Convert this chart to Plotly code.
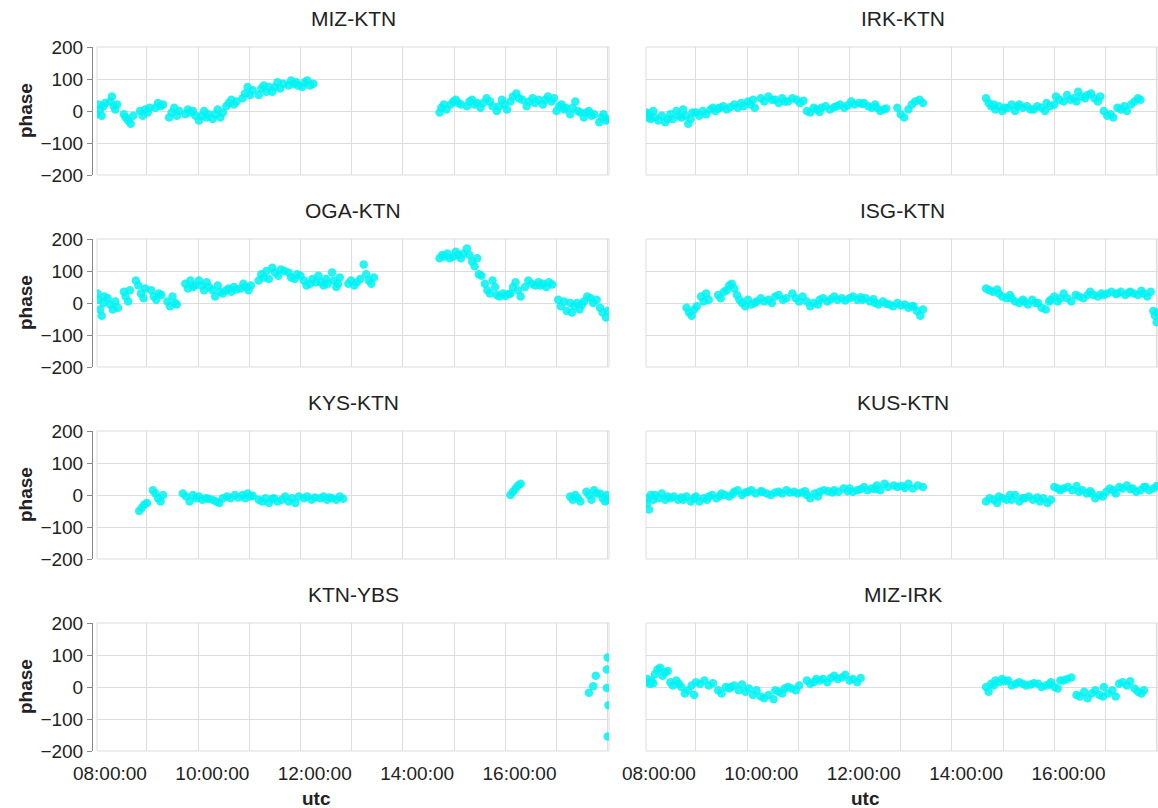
import plotly.graph_objects as go

DAY = "2000-01-01 "

# ---- baseline phase series (utc "HH:MM", phase in degrees) ----
miz_ktn_t = ["07:01","07:03","07:05","07:07","07:09","07:11",
             "07:17","07:19","07:21","07:23","07:25",
             "07:33","07:35","07:38","07:41","07:44",
             "07:52","07:55","07:58","08:01","08:03",
             "08:10","08:13","08:16","08:19",
             "08:26","08:29","08:32","08:35","08:38",
             "08:45","08:48","08:51","08:54","08:57",
             "09:01","09:04","09:07","09:10","09:12",
             "09:17","09:20","09:23","09:26","09:29",
             "09:33","09:36","09:39","09:42","09:45",
             "09:52","09:55","09:58","10:01","10:04",
             "10:11","10:14","10:17","10:20","10:23",
             "10:27","10:30","10:33","10:36","10:40",
             "10:46","10:49","10:52","10:55","10:57",
             "11:02","11:05","11:08","11:11","11:15",
             "13:43","13:45","13:48","13:51",
             "13:56","13:59","14:02","14:05","14:08",
             "14:15","14:18","14:21","14:24","14:27",
             "14:31","14:34","14:38","14:42","14:45",
             "14:50","14:53","14:56","14:59","15:02",
             "15:06","15:09","15:13","15:16","15:20",
             "15:25","15:28","15:32","15:35","15:39",
             "15:44","15:47","15:50","15:54","15:57",
             "16:00","16:03","16:06","16:09","16:11",
             "16:16","16:19","16:22","16:25","16:28",
             "16:32","16:35","16:38","16:41","16:44",
             "16:50","16:53","16:55","16:58","17:00"]
miz_ktn_v = [-10,20,5,-15,15,25,
             30,45,15,5,20,
             -10,-20,-30,-40,-15,
             0,-15,5,-5,10,
             10,25,15,20,
             -20,-5,10,-15,0,
             -10,5,-5,0,-15,
             -30,-15,0,-20,-10,
             -25,-10,5,-20,-5,
             15,25,35,20,30,
             40,55,75,50,65,
             50,70,80,60,75,
             60,75,90,70,85,
             80,95,85,90,80,
             75,90,95,80,85,
             -5,10,20,5,
             20,30,35,25,20,
             15,30,35,20,25,
             10,25,40,30,15,
             0,15,35,20,5,
             30,45,55,40,35,
             15,30,40,25,35,
             20,35,45,30,40,
             0,15,20,5,10,
             -10,10,30,0,-5,
             -20,-5,0,-15,-10,
             -35,-20,-10,-30,-25]

irk_ktn_t = ["07:02","07:03","07:05","07:07","07:10",
             "07:12","07:16","07:20","07:24","07:27",
             "07:30","07:33","07:37","07:40","07:43",
             "07:45","07:48","07:51","07:54","07:56",
             "08:00","08:04","08:08","08:12",
             "08:17","08:20","08:23","08:26",
             "08:28","08:32","08:36","08:40",
             "08:45","08:49","08:53","08:56",
             "09:01","09:04","09:07","09:09",
             "09:16","09:20","09:25","09:29",
             "09:33","09:37","09:41","09:44",
             "09:48","09:53","09:58","10:02","10:06",
             "10:10","10:14","10:18","10:22","10:25",
             "10:27","10:32","10:37","10:42",
             "10:45","10:49","10:54","10:58",
             "11:02","11:06","11:11","11:15",
             "11:17","11:22","11:26","11:30",
             "11:32","11:36","11:40","11:43",
             "11:56","12:00","12:04","12:09",
             "12:13","12:17","12:22","12:26",
             "13:40","13:43","13:46","13:49",
             "13:51","13:55","13:59","14:02",
             "14:06","14:10","14:14","14:17",
             "14:19","14:23","14:28","14:32",
             "14:36","14:40","14:45","14:49",
             "14:51","14:55","15:00",
             "15:02","15:06","15:11",
             "15:15","15:19","15:23","15:26",
             "15:28","15:32","15:36","15:39",
             "15:43","15:47","15:51","15:54",
             "15:58","16:02","16:06","16:09",
             "16:14","16:18","16:22","16:25",
             "16:30","16:34","16:38","16:41"]
irk_ktn_v = [-5,-20,-10,-25,0,
             -20,-30,-15,-35,-25,
             -10,-25,0,-15,-20,
             5,-15,-40,-25,-5,
             -5,-15,0,-10,
             5,10,0,8,
             10,15,5,12,
             20,10,25,15,
             30,20,35,10,
             40,30,45,35,
             35,25,40,30,
             30,40,35,25,32,
             0,-5,10,5,-3,
             10,15,5,12,
             15,20,10,18,
             30,20,25,22,
             25,15,10,20,
             10,0,5,8,
             10,-10,-20,5,
             20,30,35,25,
             40,25,15,20,
             5,15,0,10,
             10,20,0,15,
             20,10,15,5,
             5,15,10,0,
             25,15,20,
             45,35,30,
             50,35,40,30,
             60,45,40,50,
             55,40,30,45,
             0,-15,-10,-20,
             10,5,15,0,
             20,30,40,35]

oga_ktn_t = ["07:02","07:03","07:05","07:07","07:09","07:10",
             "07:14","07:17","07:20","07:23","07:26",
             "07:33","07:35","07:38","07:40",
             "07:47","07:50","07:53","07:56","07:58",
             "08:05","08:08","08:11","08:14","08:17",
             "08:24","08:27","08:30","08:33","08:35",
             "08:45","08:48","08:51","08:54","08:56",
             "09:01","09:04","09:07","09:10","09:13",
             "09:17","09:20","09:23","09:26","09:29",
             "09:33","09:36","09:39","09:42","09:45",
             "09:50","09:53","09:56","09:59","10:02",
             "10:11","10:14","10:17","10:20","10:23",
             "10:27","10:30","10:34","10:37","10:41",
             "10:46","10:49","10:53","10:56","11:00",
             "11:04","11:07","11:11","11:14","11:18",
             "11:21","11:24","11:27","11:30","11:32",
             "11:37","11:39","11:42","11:44","11:46",
             "11:56","11:59","12:03","12:06","12:10",
             "12:14","12:17","12:20","12:23","12:26",
             "13:43","13:46","13:49","13:52","13:55",
             "13:59","14:02","14:05","14:08","14:11",
             "14:15","14:18","14:21","14:24","14:27",
             "14:29","14:32",
             "14:36","14:39","14:42","14:45","14:48",
             "14:50","14:53","14:57","15:00","15:04",
             "15:06","15:09","15:12","15:15","15:18",
             "15:23","15:27","15:31","15:35","15:39",
             "15:41","15:44","15:48","15:51","15:55",
             "16:02","16:05","16:09","16:12","16:16",
             "16:18","16:21","16:24","16:27","16:30",
             "16:32","16:36","16:40","16:43","16:47",
             "16:51","16:54","16:58","17:00"]
oga_ktn_v = [30,10,-20,-40,0,20,
             15,-5,-20,5,-15,
             35,20,5,40,
             70,55,30,15,45,
             40,20,10,30,25,
             5,-10,20,0,-5,
             60,45,70,50,55,
             70,55,40,65,50,
             40,20,55,35,30,
             40,45,35,50,42,
             45,60,50,40,55,
             70,90,80,100,75,
             110,95,85,105,100,
             95,80,75,90,85,
             70,55,60,75,65,
             85,65,55,75,60,
             95,70,50,60,80,
             60,70,55,65,75,
             120,90,70,60,80,
             140,150,145,155,140,
             145,160,150,140,155,
             170,150,130,115,140,
             90,85,
             60,40,30,70,50,
             25,20,30,22,28,
             30,50,65,40,20,
             50,70,60,55,65,
             55,60,50,65,58,
             10,-10,5,-25,0,
             -30,-10,0,-20,-5,
             5,20,15,0,10,
             -15,-30,-45,-25]

isg_ktn_t = ["07:49","07:52","07:55","07:58","08:01",
             "08:06","08:09","08:12","08:15",
             "08:26","08:29","08:33",
             "08:36","08:39","08:42","08:45",
             "08:48","08:51","08:54","08:58",
             "09:01","09:05","09:09","09:11",
             "09:16","09:20","09:25","09:29",
             "09:33","09:37","09:42","09:46",
             "09:53","09:57","10:01","10:05",
             "10:10","10:14","10:18","10:23",
             "10:25","10:29","10:34","10:38",
             "10:42","10:46","10:51","10:55",
             "11:00","11:04","11:09","11:13",
             "11:15","11:19","11:24","11:28",
             "11:30","11:34","11:39","11:43",
             "11:47","11:51","11:56","12:00",
             "12:05","12:09","12:13",
             "12:15","12:19","12:23","12:26",
             "13:40","13:44","13:48","13:53",
             "13:55","13:59","14:04","14:08",
             "14:10","14:14","14:19","14:23",
             "14:25","14:29","14:34","14:38",
             "14:41","14:45","14:50","14:54",
             "14:56","15:00","15:04","15:07",
             "15:11","15:15","15:20","15:25",
             "15:29","15:34","15:39",
             "15:42","15:46","15:51","15:55",
             "15:58","16:02","16:07","16:12",
             "16:14","16:18","16:23","16:27",
             "16:29","16:33","16:38","16:42",
             "16:45","16:49","16:53",
             "16:56","16:58","17:00","17:01"]
isg_ktn_v = [-15,-30,-40,-20,-10,
             20,5,30,10,
             25,15,35,
             40,55,60,45,
             25,10,0,-10,
             10,-5,0,5,
             15,5,10,0,
             20,25,10,15,
             30,15,5,20,
             5,-10,0,-5,
             10,15,5,12,
             20,10,15,8,
             15,20,10,18,
             10,15,5,12,
             0,-5,5,-2,
             -5,-10,0,-8,
             -5,-15,-10,
             -10,-25,-40,-20,
             45,40,35,42,
             30,20,15,25,
             15,5,0,10,
             5,-5,10,0,
             0,-15,-20,5,
             10,20,5,15,
             30,15,5,25,
             20,15,25,
             35,25,20,30,
             25,30,35,28,
             30,35,25,32,
             35,30,25,38,
             30,20,35,
             -25,-40,-60,-30]

kys_ktn_t = ["07:51","07:54","07:57","08:00",
             "08:07","08:10","08:13","08:16","08:19",
             "08:42","08:46","08:50","08:54","08:58",
             "09:01","09:05","09:09","09:12",
             "09:17","09:21","09:25","09:29",
             "09:34","09:38","09:43","09:47",
             "09:52","09:55","09:58","10:01","10:04",
             "10:11","10:15","10:19","10:23","10:27",
             "10:29","10:33","10:38","10:42",
             "10:46","10:50","10:54","10:58",
             "11:04","11:08","11:13","11:17",
             "11:23","11:27","11:31","11:34",
             "11:37","11:42","11:46","11:50",
             "15:06","15:09","15:12","15:15","15:18",
             "16:16","16:19","16:22","16:25","16:28",
             "16:35","16:38","16:41","16:44","16:47",
             "16:51","16:54","16:57","16:59","17:00"]
kys_ktn_v = [-50,-40,-30,-25,
             15,5,-10,-20,0,
             5,-5,-20,0,-10,
             -5,-15,-10,-12,
             -15,-20,-25,-10,
             -5,-10,0,-8,
             0,-10,5,-5,-2,
             -15,-20,-10,-25,-12,
             -10,-20,-15,-5,
             -20,-10,-25,-5,
             -10,-5,-15,-8,
             -10,-5,-15,-8,
             -10,-15,-5,-12,
             0,10,20,30,35,
             -5,-15,0,-10,-20,
             10,0,-15,15,5,
             5,-10,-20,0,-15]

kus_ktn_t = ["07:02","07:03","07:05","07:07","07:10",
             "07:12","07:16","07:20","07:24","07:27",
             "07:30","07:34","07:39","07:43",
             "07:45","07:49","07:54","07:58",
             "08:00","08:04","08:09","08:13",
             "08:15","08:19","08:24","08:28",
             "08:30","08:34","08:39","08:43",
             "08:45","08:49","08:54","08:58",
             "09:01","09:05","09:10","09:16",
             "09:18","09:23","09:28","09:33",
             "09:37","09:41","09:46","09:50",
             "09:55","09:59","10:04","10:08",
             "10:10","10:14","10:19","10:23",
             "10:25","10:30","10:35","10:40",
             "10:42","10:47","10:53","10:58",
             "11:00","11:04","11:09","11:13",
             "11:17","11:21","11:26","11:30",
             "11:32","11:36","11:41","11:45",
             "11:52","11:56","12:01","12:05",
             "12:09","12:14","12:20","12:26",
             "13:40","13:44","13:49","13:53",
             "13:55","13:59","14:04","14:08",
             "14:10","14:14","14:19","14:23",
             "14:25","14:30","14:35","14:40",
             "14:43","14:47","14:52","14:56",
             "15:00","15:04","15:07",
             "15:11","15:16","15:21","15:26",
             "15:29","15:33","15:38","15:42",
             "15:44","15:48","15:53","15:57",
             "16:01","16:05","16:09","16:12",
             "16:16","16:20","16:25","16:29",
             "16:32","16:36","16:41","16:45",
             "16:47","16:51","16:56","17:00"]
kus_ktn_v = [-10,-25,-45,0,-15,
             0,-10,5,-15,-5,
             -10,-5,-15,-8,
             -15,-5,-20,-10,
             -5,-20,-10,-15,
             -5,0,-10,-3,
             5,0,-5,3,
             10,15,0,8,
             10,15,5,12,
             10,5,0,8,
             10,5,15,8,
             10,5,8,12,
             0,-10,5,-5,
             10,15,12,8,
             15,10,20,12,
             20,10,15,18,
             25,15,20,18,
             30,15,35,25,
             30,25,28,22,
             35,20,30,25,
             -20,-10,-15,-25,
             -5,-10,-15,0,
             -15,0,-20,-10,
             -10,-5,-15,-8,
             -20,-10,-25,-15,
             25,20,15,
             20,25,15,28,
             10,15,5,12,
             5,-10,0,-5,
             10,20,15,5,
             25,20,30,18,
             20,10,15,25,
             25,15,20,28]

ktn_ybs_t = ["16:38","16:43","16:46","16:59","16:59","17:00","17:01","17:00"]
ktn_ybs_v = [-18,2,35,-3,55,92,-57,-155]

miz_irk_t = ["07:02","07:03","07:06","07:08","07:10",
             "07:12","07:15","07:18","07:21","07:24","07:27",
             "07:30","07:33","07:37","07:40",
             "07:43","07:47","07:51","07:55","07:58",
             "08:00","08:05","08:10","08:15","08:20",
             "08:26","08:30","08:35","08:39",
             "08:41","08:45","08:50","08:54",
             "08:58","09:02","09:07","09:11",
             "09:16","09:20","09:25","09:31",
             "09:33","09:37","09:41","09:44",
             "09:48","09:52","09:57","10:01",
             "10:10","10:14","10:18","10:21",
             "10:25","10:29","10:34","10:38",
             "10:42","10:46","10:51","10:55",
             "11:00","11:04","11:09","11:13",
             "13:40","13:43","13:46","13:49",
             "13:51","13:55","13:59","14:02",
             "14:06","14:10","14:15","14:19",
             "14:23","14:27","14:32","14:36",
             "14:41","14:45","14:50","14:54",
             "14:56","15:00","15:04","15:07",
             "15:11","15:15","15:20",
             "15:26","15:30","15:35","15:39",
             "15:44","15:48","15:53","15:57",
             "15:58","16:03","16:08","16:12",
             "16:16","16:20","16:25","16:29",
             "16:34","16:38","16:42","16:45"]
miz_irk_v = [15,25,10,20,12,
             40,55,60,35,45,50,
             15,5,20,10,
             0,-20,-10,5,-25,
             15,10,20,5,12,
             -10,-20,0,-5,
             0,5,-10,8,
             -15,-5,-25,-10,
             -30,-35,-25,-38,
             -10,-15,-20,-5,
             0,-5,-10,5,
             20,10,15,25,
             20,25,15,28,
             35,25,30,38,
             20,25,15,28,
             0,-15,10,5,
             20,15,25,18,
             20,5,10,15,
             10,5,8,12,
             10,0,5,8,
             15,0,-5,20,
             20,25,30,
             -25,-30,-15,-35,
             -20,-10,-25,-30,
             0,-20,-10,-30,
             10,15,5,18,
             -5,-15,-20,-10]

# facet order: row by row, left column then right column
panel_names = ["MIZ-KTN", "IRK-KTN", "OGA-KTN", "ISG-KTN",
               "KYS-KTN", "KUS-KTN", "KTN-YBS", "MIZ-IRK"]
panel_times = [miz_ktn_t, irk_ktn_t, oga_ktn_t, isg_ktn_t,
               kys_ktn_t, kus_ktn_t, ktn_ybs_t, miz_irk_t]
panel_values = [miz_ktn_v, irk_ktn_v, oga_ktn_v, isg_ktn_v,
                kys_ktn_v, kus_ktn_v, ktn_ybs_v, miz_irk_v]

hour_ticks = [f"{h:02d}:00:00" for h in range(7, 18)]
hour_labels = [s if int(s[:2]) % 2 == 0 else "" for s in hour_ticks]
y_ticks = [-200, -100, 0, 100, 200]

# ---- layout geometry (pixels of a 1158 x 808 page) ----
W, H = 1158, 808
col_px = [(97, 609), (646, 1158)]
row_px = [(47, 175), (239, 367), (431, 559), (623, 751)]
yaxis_line_px = 92

FONT = "Liberation Sans, Arial, Helvetica, sans-serif"
GRID = "#dddddd"
TEXT = "#222222"
POINT = "#00f2f2"

fig = go.Figure()
layout = dict(
    template="none",
    width=W, height=H,
    margin=dict(l=0, r=0, t=0, b=0, pad=0, autoexpand=False),
    paper_bgcolor="white", plot_bgcolor="white",
    showlegend=False,
    font=dict(family=FONT, color=TEXT),
)
annotations = []
shapes = []

for i, (name, ts, vs) in enumerate(zip(panel_names, panel_times, panel_values)):
    r, c = divmod(i, 2)
    k = i + 1
    xs = "" if k == 1 else str(k)
    x0, x1 = col_px[c]
    ytop, ybot = row_px[r]
    xdom = [x0 / W, min(x1 / W, 1.0)]
    ydom = [1 - ybot / H, 1 - ytop / H]

    fig.add_trace(go.Scatter(
        x=[DAY + t for t in ts], y=vs, mode="markers",
        marker=dict(size=8.5, color=POINT, opacity=0.85, line=dict(width=0)),
        xaxis="x" + xs, yaxis="y" + xs, hoverinfo="x+y",
    ))

    bottom = r == 3
    layout["xaxis" + xs] = dict(
        domain=xdom, anchor="y" + xs, type="date", automargin=False,
        range=[DAY + "07:01:30", DAY + "17:01:30"],
        tickmode="array", tickvals=[DAY + t for t in hour_ticks],
        ticktext=hour_labels if bottom else [""] * len(hour_ticks),
        showticklabels=bottom,
        tickfont=dict(size=19, color=TEXT),
        ticklabelshift=-37, ticklabelstandoff=9,
        showgrid=True, gridcolor=GRID, gridwidth=1,
        showline=False, zeroline=False, ticks="",
    )
    ya = dict(
        domain=ydom, range=[-200, 200], automargin=False,
        tickmode="array", tickvals=y_ticks,
        showgrid=True, gridcolor=GRID, gridwidth=1, zeroline=False,
    )
    if c == 0:
        ya.update(anchor="free", position=yaxis_line_px / W,
                  showline=True, linecolor="#888888", linewidth=1,
                  ticks="outside", ticklen=5, tickcolor="#888888",
                  tickfont=dict(size=19, color=TEXT), showticklabels=True)
        annotations.append(dict(
            text="<b>phase</b>", xref="paper", yref="paper",
            x=25 / W, y=1 - (ytop + ybot) / 2 / H, textangle=-90,
            showarrow=False, font=dict(size=19, color=TEXT),
            xanchor="center", yanchor="middle"))
    else:
        ya.update(anchor="x" + xs, showline=False, ticks="",
                  showticklabels=False)
    layout["yaxis" + xs] = ya

    # panel frame
    shapes.append(dict(type="rect", xref="x" + xs + " domain",
                       yref="y" + xs + " domain", x0=0, x1=1, y0=0, y1=1,
                       line=dict(color=GRID, width=1), layer="below"))
    # facet header
    annotations.append(dict(
        text=name, xref="paper", yref="paper",
        x=(x0 + min(x1, W)) / 2 / W if c == 0 else (x0 + 1159) / 2 / W,
        y=1 - (ytop - 29) / H, showarrow=False,
        font=dict(size=21, color=TEXT), xanchor="center", yanchor="middle"))
    if bottom:
        annotations.append(dict(
            text="<b>utc</b>", xref="paper", yref="paper",
            x=((x0 + 512 / 2) - 37) / W, y=1 - 798 / H, showarrow=False,
            font=dict(size=19, color=TEXT), xanchor="center", yanchor="middle"))

layout["annotations"] = annotations
layout["shapes"] = shapes
fig.update_layout(**layout)
fig.write_html("out.html")
